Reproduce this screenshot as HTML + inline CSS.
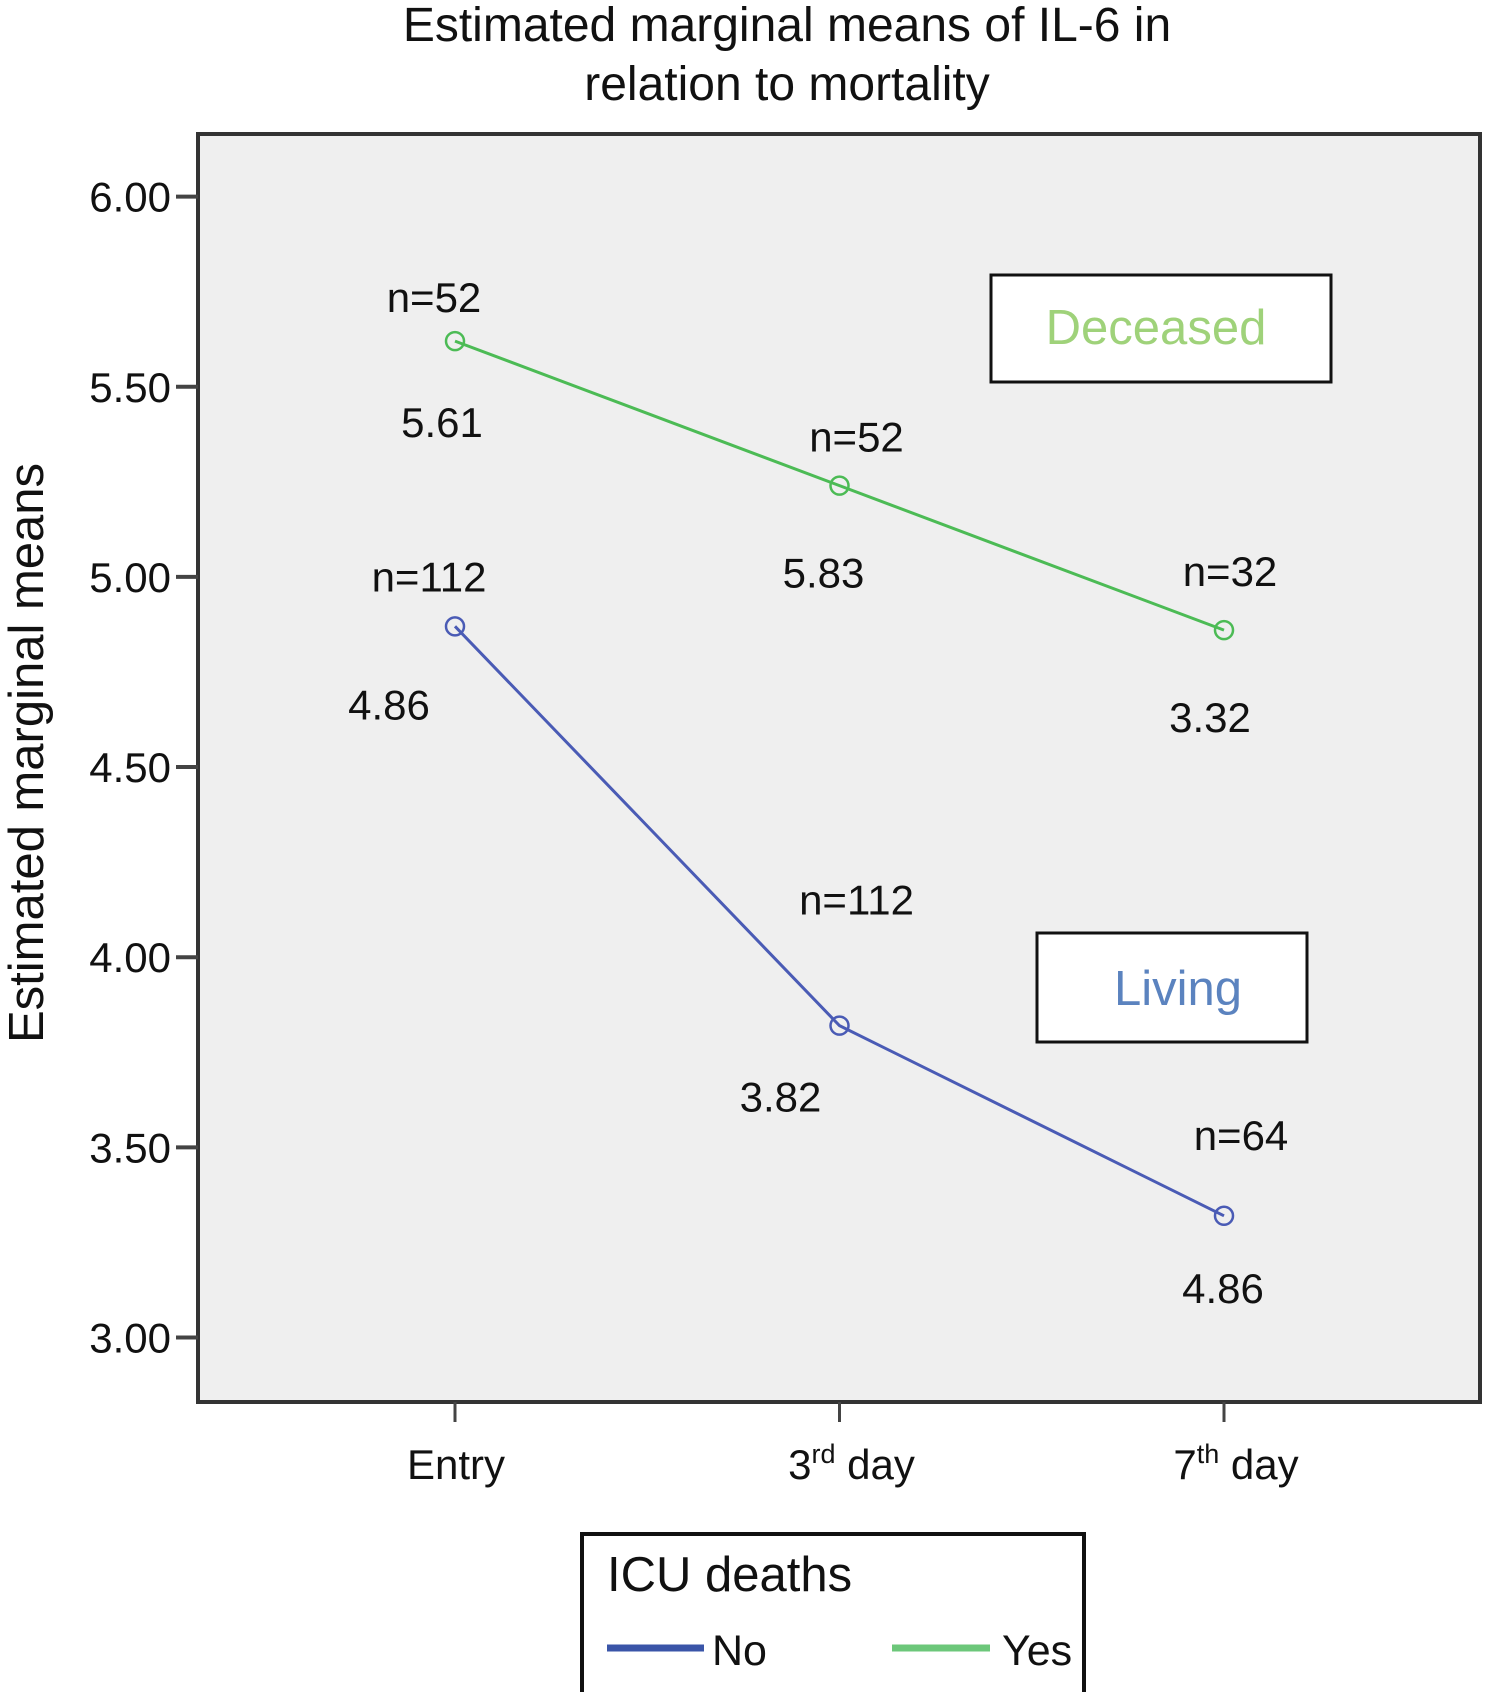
<!DOCTYPE html>
<html><head><meta charset="utf-8"><style>
body{margin:0;background:#fff}
svg text{font-family:"Liberation Sans",sans-serif;fill:#111}
</style></head><body>
<svg id="chart" width="1491" height="1692" viewBox="0 0 1491 1692">
<text x="787" y="41" font-size="48" text-anchor="middle">Estimated marginal means of IL-6 in</text>
<text x="787" y="100" font-size="48" text-anchor="middle">relation to mortality</text>
<rect x="198" y="134" width="1282" height="1268" fill="#efefef" stroke="#333" stroke-width="4"/>
<g id="yaxis"></g>
<g id="xaxis"></g>
<text transform="translate(43,753) rotate(-90)" font-size="49" text-anchor="middle">Estimated marginal means</text>
<g id="series"></g>
<g id="annots"></g>
<rect x="991" y="275" width="340" height="107" fill="#fff" stroke="#111" stroke-width="3"/>
<text x="1156" y="344" font-size="49" text-anchor="middle" style="fill:#9fd27a">Deceased</text>
<rect x="1037" y="933" width="270" height="109" fill="#fff" stroke="#111" stroke-width="3"/>
<text x="1178" y="1005" font-size="49" text-anchor="middle" style="fill:#5b83bf">Living</text>
<g>
<rect x="582" y="1534" width="502" height="162" fill="#fff" stroke="#111" stroke-width="4"/>
<text x="607" y="1591" font-size="49">ICU deaths</text>
<line x1="607" y1="1648" x2="704" y2="1648" stroke="#3a55a8" stroke-width="7"/>
<text x="712" y="1665" font-size="43">No</text>
<line x1="892" y1="1648" x2="990" y2="1648" stroke="#6cc77a" stroke-width="7"/>
<text x="1002" y="1665" font-size="43">Yes</text>
</g>
</svg>
<script>
const categories=["Entry","3rd day","7th day"];
const yTicks=[3.0,3.5,4.0,4.5,5.0,5.5,6.0];
const livingValues=[4.87,3.82,3.32];
const deceasedValues=[5.62,5.24,4.86];
const livingN=["n=112","n=112","n=64"];
const deceasedN=["n=52","n=52","n=32"];
const livingPrinted=["4.86","3.82","4.86"];
const deceasedPrinted=["5.61","5.83","3.32"];
const NS="http://www.w3.org/2000/svg";
function y(v){return 196.6+(6-v)*(1337.5-196.6)/3;}
function x(i){return 455+i*384.5;}
function mk(t,a,p,txt){const e=document.createElementNS(NS,t);for(const k in a)e.setAttribute(k,a[k]);if(txt!==undefined)e.textContent=txt;p.appendChild(e);return e;}
const ya=document.getElementById('yaxis');
yTicks.forEach(v=>{
 const l=mk('line',{x1:176,x2:198,y1:y(v),y2:y(v),stroke:'#444','stroke-width':4},ya);
 
 
 const t=mk('text',{x:171,y:y(v)+15,'font-size':42,'text-anchor':'end'},ya,v.toFixed(2));
 
 
});
const xa=document.getElementById('xaxis');
categories.forEach((c,i)=>{
 const l=mk('line',{x1:x(i),x2:x(i),y1:1402,y2:1422,stroke:'#444','stroke-width':3},xa);
 
 
 const t=mk('text',{x:x(i)+(i==0?1:12),y:1479,'font-size':42,'text-anchor':'middle'},xa);
 
 
 const m=c.match(/^(\d)(rd|th) (.*)$/);
 if(m){mk('tspan',{},t,m[1]);mk('tspan',{dy:-16,'font-size':27},t,m[2]);mk('tspan',{dy:16},t,' '+m[3]);}
 else t.textContent=c;
});
const sg=document.getElementById('series');
[[livingValues,'#4a5bb5','living'],[deceasedValues,'#4cbb55','deceased']].forEach(([vals,col,nm])=>{
 const pl=mk('polyline',{points:vals.map((v,i)=>x(i)+','+y(v)).join(' '),fill:'none',stroke:col,'stroke-width':3},sg);
 
 
 vals.forEach((v,i)=>{
  const c=mk('circle',{cx:x(i),cy:y(v),r:9,fill:'none',stroke:col,'stroke-width':2.5},sg);
  
  
 });
});
const ag=document.getElementById('annots');
const nOff=[[-21,-29],[17,-34],[6,-44]], pOff=[[-13,36],[-16,42],[-14,42]];
const nOffL=[[-26,-35],[17,-111],[17,-66]], pOffL=[[-66,53],[-59,46],[-1,47]];
deceasedValues.forEach((v,i)=>{
 const t=mk('text',{x:x(i)+nOff[i][0],y:y(v)+nOff[i][1],'font-size':42,'text-anchor':'middle'},ag,deceasedN[i]);
 
 
 const p=mk('text',{x:x(i)+pOff[i][0],y:y(v)+pOff[i][1]+60,'font-size':42,'text-anchor':'middle'},ag,deceasedPrinted[i]);
 
 
});
livingValues.forEach((v,i)=>{
 const t=mk('text',{x:x(i)+nOffL[i][0],y:y(v)+nOffL[i][1],'font-size':42,'text-anchor':'middle'},ag,livingN[i]);
 
 
 const p=mk('text',{x:x(i)+pOffL[i][0],y:y(v)+pOffL[i][1]+40,'font-size':42,'text-anchor':'middle'},ag,livingPrinted[i]);
 
 
});
</script>
</body></html>
